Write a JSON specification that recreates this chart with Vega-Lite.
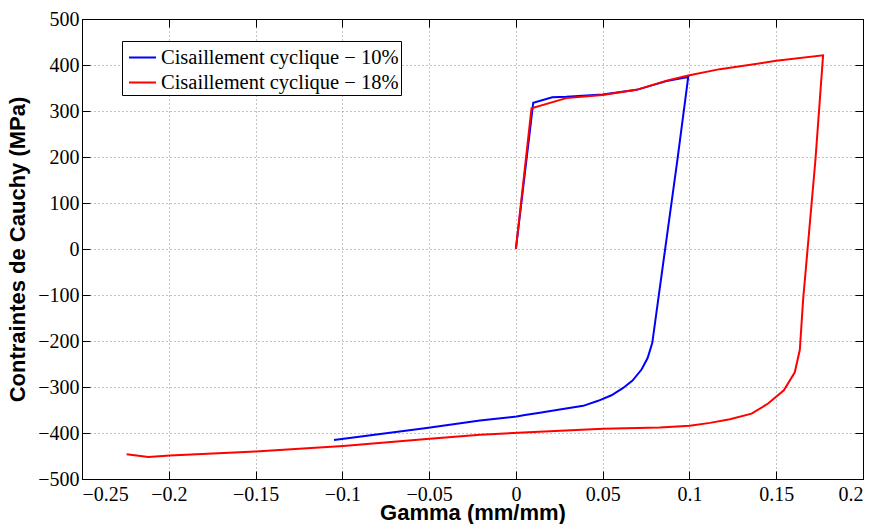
{
  "$schema": "https://vega.github.io/schema/vega-lite/v6.json",
  "width": 781,
  "height": 460,
  "autosize": {"type": "none"},
  "padding": {"left": 82, "top": 19, "right": 14, "bottom": 45},
  "background": "white",
  "config": {
    "view": {"stroke": "black", "strokeWidth": 1},
    "axis": {
      "domainColor": "black",
      "tickColor": "black",
      "labelColor": "black",
      "labelFont": "Liberation Serif",
      "labelFontSize": 20,
      "titleFont": "Liberation Sans",
      "titleFontSize": 22,
      "titleFontWeight": "bold",
      "titleColor": "black",
      "gridColor": "#888888",
      "gridDash": [1, 3],
      "gridWidth": 1,
      "gridOpacity": 1
    }
  },
  "data": {
    "values": [
      {"serie": "A", "idx": 1, "gamma": 0, "stress": 0},
      {"serie": "A", "idx": 2, "gamma": 0.01, "stress": 318},
      {"serie": "A", "idx": 3, "gamma": 0.021, "stress": 330},
      {"serie": "A", "idx": 4, "gamma": 0.029, "stress": 331},
      {"serie": "A", "idx": 5, "gamma": 0.05, "stress": 336},
      {"serie": "A", "idx": 6, "gamma": 0.0695, "stress": 346},
      {"serie": "A", "idx": 7, "gamma": 0.0868, "stress": 365},
      {"serie": "A", "idx": 8, "gamma": 0.0993, "stress": 374},
      {"serie": "A", "idx": 9, "gamma": 0.0931, "stress": 195},
      {"serie": "A", "idx": 10, "gamma": 0.082, "stress": -110},
      {"serie": "A", "idx": 11, "gamma": 0.0786, "stress": -204},
      {"serie": "A", "idx": 12, "gamma": 0.0759, "stress": -237},
      {"serie": "A", "idx": 13, "gamma": 0.0724, "stress": -262},
      {"serie": "A", "idx": 14, "gamma": 0.0672, "stress": -286},
      {"serie": "A", "idx": 15, "gamma": 0.0618, "stress": -302},
      {"serie": "A", "idx": 16, "gamma": 0.0551, "stress": -318},
      {"serie": "A", "idx": 17, "gamma": 0.0474, "stress": -330},
      {"serie": "A", "idx": 18, "gamma": 0.0388, "stress": -341},
      {"serie": "A", "idx": 19, "gamma": 0.0253, "stress": -349},
      {"serie": "A", "idx": 20, "gamma": 0.0138, "stress": -356},
      {"serie": "A", "idx": 21, "gamma": 0.0052, "stress": -361},
      {"serie": "A", "idx": 22, "gamma": 0.0004, "stress": -364},
      {"serie": "A", "idx": 23, "gamma": -0.0207, "stress": -373},
      {"serie": "A", "idx": 24, "gamma": -0.0514, "stress": -389},
      {"serie": "A", "idx": 25, "gamma": -0.1048, "stress": -415},
      {"serie": "B", "idx": 1, "gamma": 0, "stress": 0},
      {"serie": "B", "idx": 2, "gamma": 0.009, "stress": 306},
      {"serie": "B", "idx": 3, "gamma": 0.029, "stress": 328},
      {"serie": "B", "idx": 4, "gamma": 0.05, "stress": 335},
      {"serie": "B", "idx": 5, "gamma": 0.0695, "stress": 346},
      {"serie": "B", "idx": 6, "gamma": 0.0868, "stress": 366},
      {"serie": "B", "idx": 7, "gamma": 0.0993, "stress": 377},
      {"serie": "B", "idx": 8, "gamma": 0.1175, "stress": 391},
      {"serie": "B", "idx": 9, "gamma": 0.15, "stress": 409},
      {"serie": "B", "idx": 10, "gamma": 0.177, "stress": 421},
      {"serie": "B", "idx": 11, "gamma": 0.1726, "stress": 194},
      {"serie": "B", "idx": 12, "gamma": 0.1655, "stress": -110},
      {"serie": "B", "idx": 13, "gamma": 0.1636, "stress": -219},
      {"serie": "B", "idx": 14, "gamma": 0.1607, "stress": -268},
      {"serie": "B", "idx": 15, "gamma": 0.1544, "stress": -307},
      {"serie": "B", "idx": 16, "gamma": 0.1453, "stress": -336},
      {"serie": "B", "idx": 17, "gamma": 0.1358, "stress": -358},
      {"serie": "B", "idx": 18, "gamma": 0.1233, "stress": -370},
      {"serie": "B", "idx": 19, "gamma": 0.1118, "stress": -378},
      {"serie": "B", "idx": 20, "gamma": 0.1002, "stress": -384},
      {"serie": "B", "idx": 21, "gamma": 0.0829, "stress": -388},
      {"serie": "B", "idx": 22, "gamma": 0.0503, "stress": -391},
      {"serie": "B", "idx": 23, "gamma": 0.0042, "stress": -399},
      {"serie": "B", "idx": 24, "gamma": -0.0207, "stress": -404},
      {"serie": "B", "idx": 25, "gamma": -0.0514, "stress": -413},
      {"serie": "B", "idx": 26, "gamma": -0.0995, "stress": -428},
      {"serie": "B", "idx": 27, "gamma": -0.15, "stress": -440},
      {"serie": "B", "idx": 28, "gamma": -0.1993, "stress": -449},
      {"serie": "B", "idx": 29, "gamma": -0.2118, "stress": -452},
      {"serie": "B", "idx": 30, "gamma": -0.2243, "stress": -446}
    ]
  },
  "resolve": {"axis": {"x": "independent", "y": "independent"}},
  "layer": [
    {
      "mark": {"type": "line", "strokeWidth": 2, "clip": true},
      "encoding": {
        "x": {
          "field": "gamma", "type": "quantitative",
          "scale": {"domain": [-0.25, 0.2], "nice": false, "zero": false},
          "axis": {
            "title": "Gamma (mm/mm)", "values": [-0.25, -0.2, -0.15, -0.1, -0.05, 0, 0.05, 0.1, 0.15, 0.2],
            "format": "~r", "labelFont": "Liberation Serif", "labelFontSize": 20,
            "tickSize": -8, "labelPadding": 13, "titleY": 40, "titleBaseline": "alphabetic", "grid": true, "orient": "bottom"
          }
        },
        "y": {
          "field": "stress", "type": "quantitative",
          "scale": {"domain": [-500, 500], "nice": false, "zero": false},
          "axis": {
            "title": "Contraintes de Cauchy (MPa)", "values": [-500, -400, -300, -200, -100, 0, 100, 200, 300, 400, 500],
            "format": "~r", "labelFont": "Liberation Serif", "labelFontSize": 20,
            "tickSize": -8, "labelPadding": 11, "titleX": -53, "titleBaseline": "bottom", "grid": true, "orient": "left"
          }
        },
        "order": {"field": "idx", "type": "quantitative"},
        "color": {
          "field": "serie", "type": "nominal",
          "scale": {"domain": ["A", "B"], "range": ["#0000ff", "#ff0000"]},
          "legend": {
            "title": null, "orient": "none", "legendX": 40, "legendY": 22,
            "direction": "vertical",
            "labelExpr": "datum.label == 'A' ? 'Cisaillement cyclique − 10%' : 'Cisaillement cyclique − 18%'",
            "fillColor": "white", "strokeColor": "black",
            "padding": 2, "symbolType": "stroke", "symbolSize": 729, "symbolStrokeWidth": 2,
            "symbolOffset": 4,
            "labelFont": "Liberation Serif", "labelFontSize": 20.5, "labelColor": "black",
            "labelLimit": 400, "labelOffset": 4, "rowPadding": -2
          }
        }
      }
    },
    {
      "mark": {"type": "line", "opacity": 0},
      "encoding": {
        "x": {
          "field": "gamma", "type": "quantitative",
          "axis": {"orient": "top", "title": null, "labels": false, "grid": false, "tickSize": -8,
                   "values": [-0.25, -0.2, -0.15, -0.1, -0.05, 0, 0.05, 0.1, 0.15, 0.2]}
        },
        "y": {
          "field": "stress", "type": "quantitative",
          "axis": {"orient": "right", "title": null, "labels": false, "grid": false, "tickSize": -8,
                   "values": [-500, -400, -300, -200, -100, 0, 100, 200, 300, 400, 500]}
        },
        "detail": {"field": "serie", "type": "nominal"},
        "order": {"field": "idx", "type": "quantitative"}
      }
    }
  ]
}
